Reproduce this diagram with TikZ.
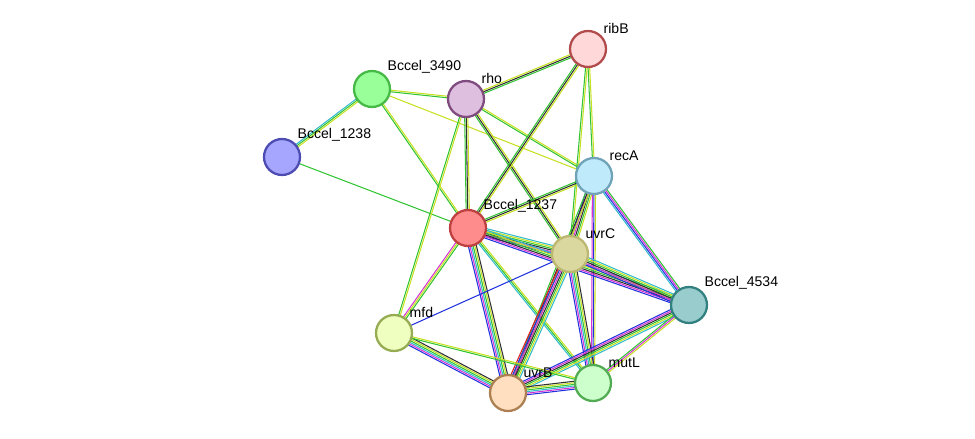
\documentclass[tikz,border=0pt]{standalone}
\usepackage{fontspec}
\setmainfont{Liberation Sans}
\usetikzlibrary{calc,backgrounds}

\definecolor{sgreen}{HTML}{33C433}
\definecolor{syellow}{HTML}{C7E022}
\definecolor{sblack}{HTML}{303030}
\definecolor{sblue}{HTML}{2233DD}
\definecolor{smag}{HTML}{D633D6}
\definecolor{scyan}{HTML}{33BBCC}
\definecolor{sred}{HTML}{E02020}

\tikzset{
  prot/.style args={#1/#2}{circle, minimum size=0.72cm, inner sep=0pt,
    fill=#1, draw=#2, line width=1.3pt},
  lbl/.style={font=\fontsize{8}{9}\selectfont, inner sep=1pt}
}

% parallel coloured lines between two nodes
\newcommand{\link}[4]{%
  \foreach \c [count=\i] in {#4} {
    \pgfmathsetmacro{\o}{(\i-(#3+1)/2)*0.9}
    \draw[\c, line width=0.6pt] ($(#1)!\o pt!90:(#2)$) -- ($(#2)!\o pt!-90:(#1)$);
  }}

\begin{document}
\begin{tikzpicture}[x=0.02cm, y=-0.02cm]
	\useasboundingbox (0,0) rectangle (975,439);

	% proteins
	\node[prot={red!15!white/red!40!gray}, label={[lbl]north east:ribB}] (ribB) at (588,49) {};
	\node[prot={green!40!white/green!45!gray}, label={[lbl]north east:Bccel\_3490}] (b3490) at (372,89) {};
	\node[prot={violet!25!white/violet!40!gray}, label={[lbl]north east:rho}] (rho) at (466,99) {};
	\node[prot={blue!35!white/blue!40!gray}, label={[lbl]north east:Bccel\_1238}] (b1238) at (282,157) {};
	\node[prot={cyan!25!white/cyan!40!gray}, label={[lbl]north east:recA}] (recA) at (594,176) {};
	\node[prot={red!45!white/red!50!gray}, label={[lbl]north east:Bccel\_1237}] (b1237) at (468,228) {};
	\node[prot={yellow!45!gray!60!white/yellow!40!gray}, label={[lbl]north east:uvrC}] (uvrC) at (570,254) {};
	\node[prot={teal!40!white/teal!60!gray}, label={[lbl]north east:Bccel\_4534}] (b4534) at (689,305) {};
	\node[prot={lime!25!white/lime!35!gray}, label={[lbl]north east:mfd}] (mfd) at (394,333) {};
	\node[prot={orange!25!white/orange!35!gray}, label={[lbl]north east:uvrB}] (uvrB) at (508,393) {};
	\node[prot={green!20!white/green!35!gray}, label={[lbl]north east:mutL}] (mutL) at (593,383) {};

	% interactions
	\begin{scope}[on background layer]
		\link{b3490}{b1238}{3}{scyan,sgreen,syellow}
		\link{b3490}{rho}{2}{sgreen,syellow}
		\link{b3490}{recA}{1}{syellow}
		\link{b3490}{b1237}{2}{sgreen,syellow}
		\link{b1238}{b1237}{1}{sgreen}
		\link{rho}{ribB}{3}{sgreen,sblack,syellow}
		\link{rho}{b1237}{3}{sgreen,sblack,syellow}
		\link{rho}{uvrC}{3}{sgreen,sblack,syellow}
		\link{rho}{recA}{2}{sgreen,syellow}
		\link{rho}{mfd}{2}{sgreen,syellow}
		\link{ribB}{b1237}{3}{sgreen,sblack,syellow}
		\link{ribB}{recA}{2}{sgreen,syellow}
		\link{ribB}{uvrC}{2}{sgreen,syellow}
		\link{recA}{b1237}{3}{sgreen,sblack,syellow}
		\link{recA}{uvrC}{5}{sblue,smag,sblack,sgreen,syellow}
		\link{recA}{b4534}{4}{scyan,sblue,smag,sgreen}
		\link{recA}{uvrB}{3}{sgreen,sblack,syellow}
		\link{recA}{mutL}{3}{smag,sblue,syellow}
		\link{b1237}{uvrC}{6}{sblue,smag,sblack,sgreen,syellow,scyan}
		\link{b1237}{b4534}{6}{sblue,smag,sblack,sgreen,syellow,scyan}
		\link{b1237}{mfd}{3}{smag,syellow,sgreen}
		\link{b1237}{uvrB}{6}{sblue,smag,scyan,sgreen,syellow,sblack}
		\link{b1237}{mutL}{3}{scyan,sgreen,syellow}
		\link{uvrC}{b4534}{6}{sblue,smag,sblack,sgreen,syellow,scyan}
		\link{uvrC}{mfd}{1}{sblue}
		\link{uvrC}{uvrB}{7}{sred,sblue,smag,sblack,sgreen,syellow,scyan}
		\link{uvrC}{mutL}{6}{sblue,smag,scyan,sgreen,syellow,sblack}
		\link{b4534}{uvrB}{6}{sblue,smag,sblack,sgreen,syellow,scyan}
		\link{b4534}{mutL}{3}{sgreen,smag,syellow}
		\link{mfd}{uvrB}{6}{sblue,smag,scyan,sgreen,syellow,sblack}
		\link{mfd}{mutL}{2}{sgreen,syellow}
		\link{uvrB}{mutL}{6}{sblue,smag,scyan,sgreen,syellow,sblack}
	\end{scope}
\end{tikzpicture}
\end{document}
